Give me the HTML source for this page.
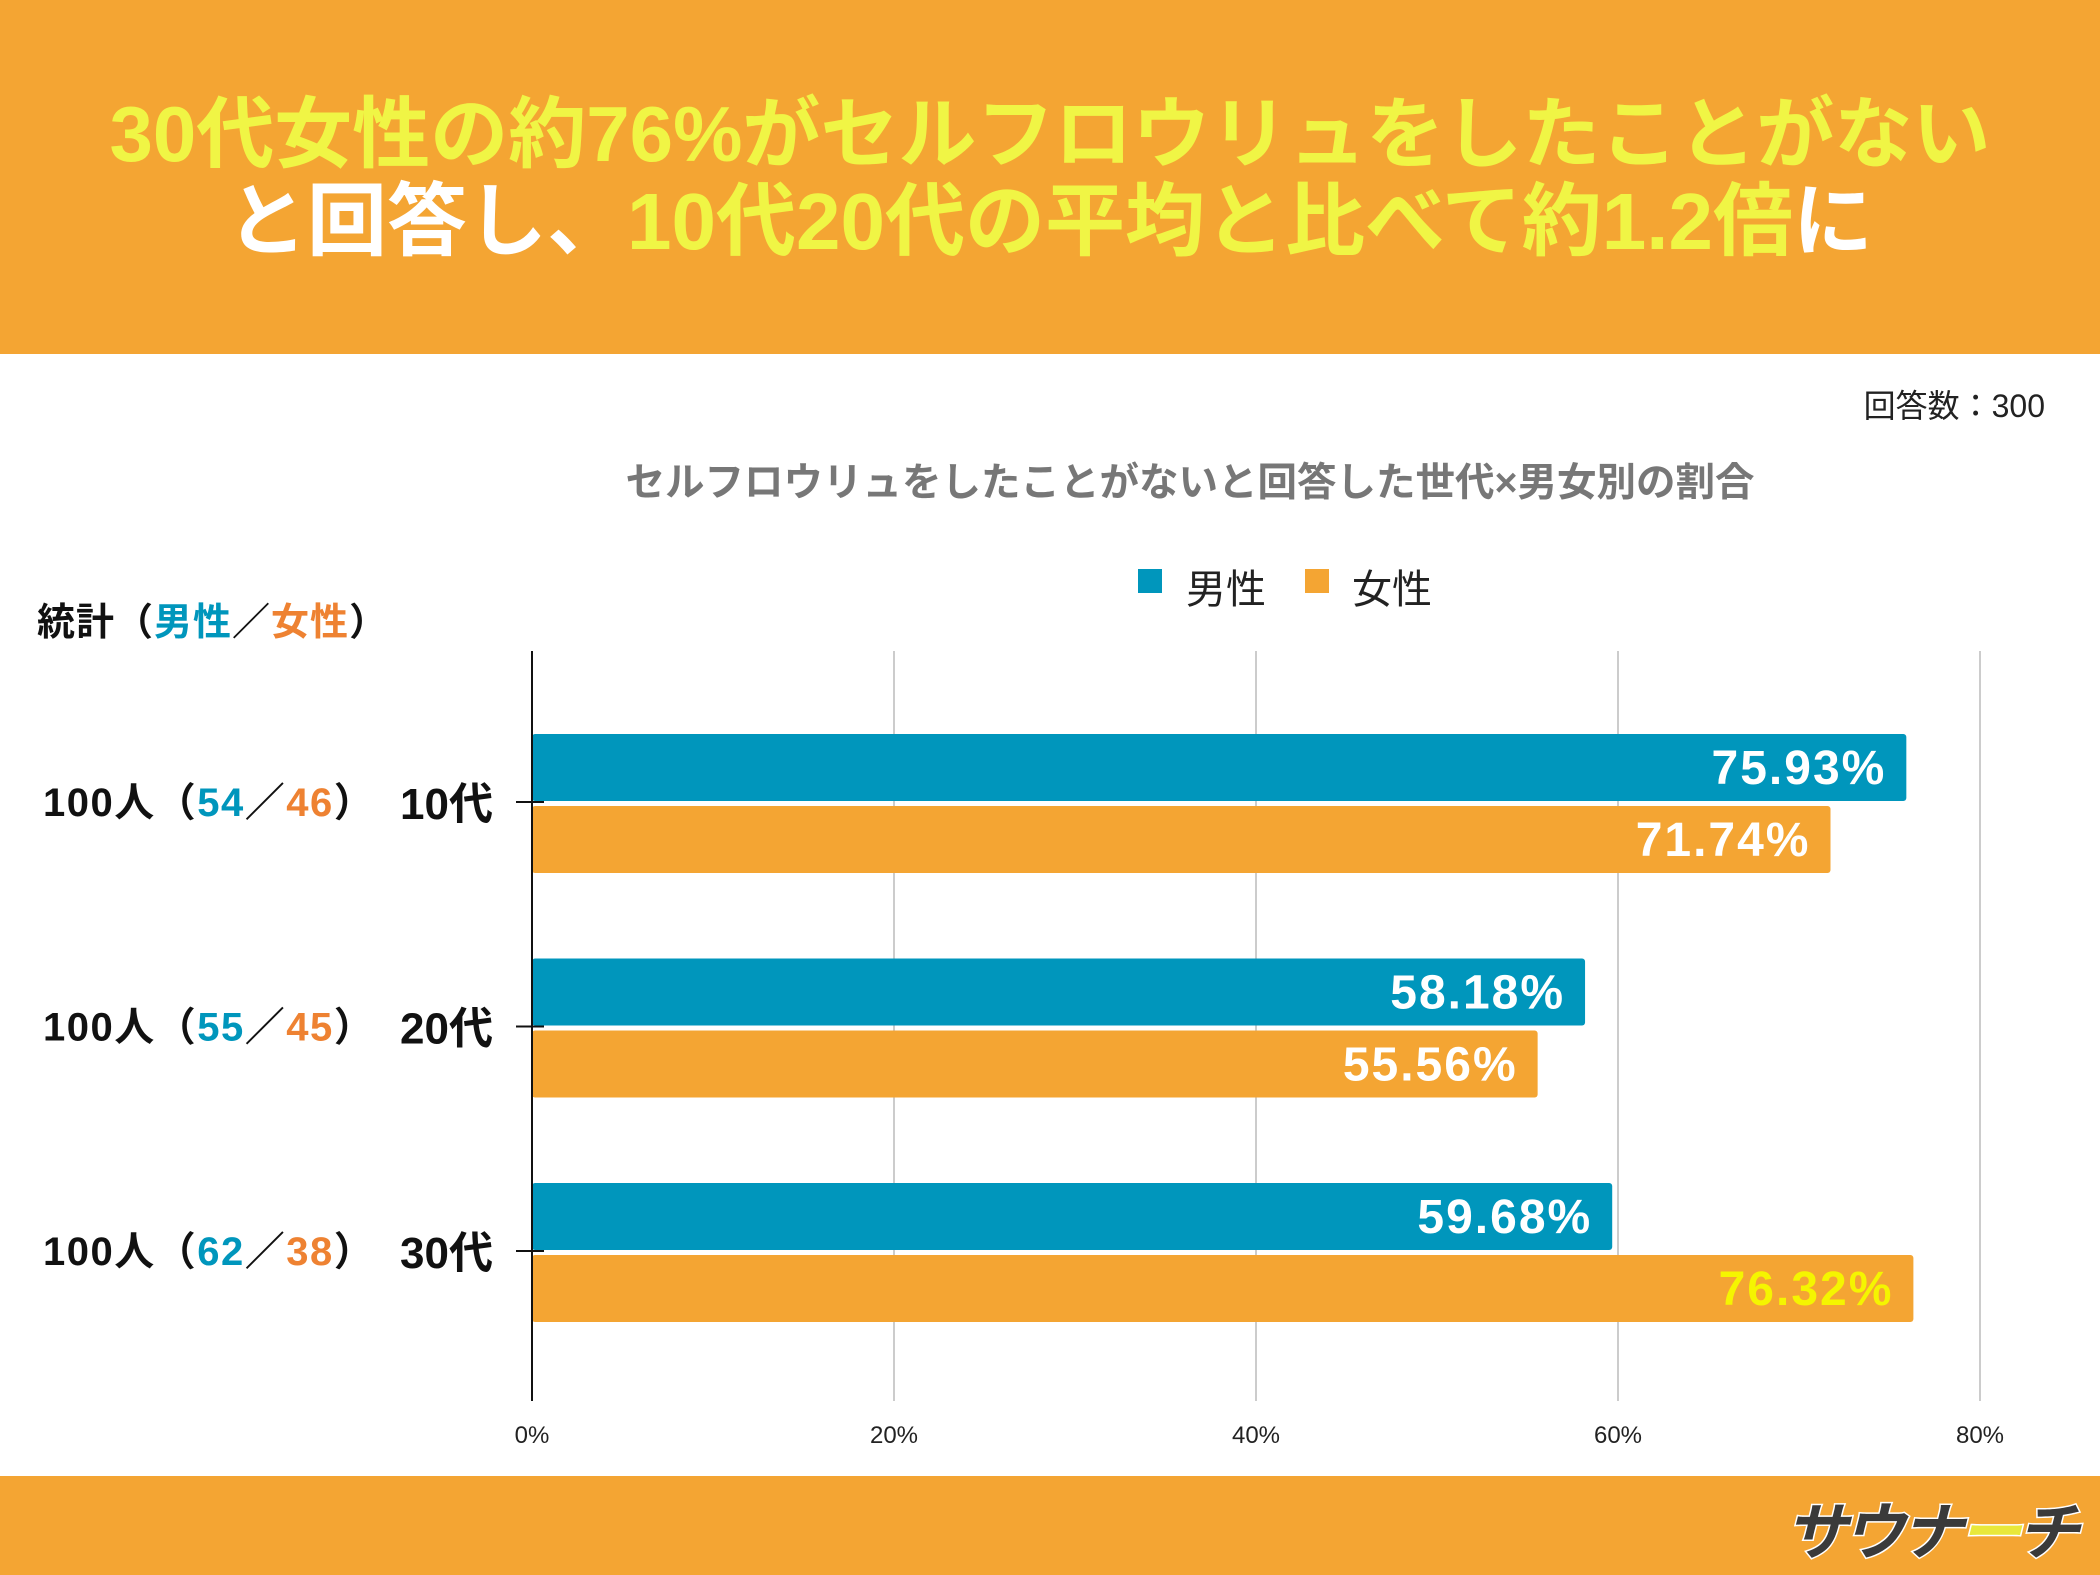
<!DOCTYPE html>
<html><head><meta charset="utf-8"><style>
html,body{margin:0;padding:0}
body{width:2100px;height:1575px;position:relative;background:#fff;overflow:hidden;font-family:"Liberation Sans","Noto Sans CJK JP",sans-serif}
.hdr{position:absolute;left:0;top:0;width:2100px;height:354px;background:#F4A533}
.t{position:absolute;left:0;width:2100px;text-align:center;font-weight:bold;font-size:78px;color:#F0F545;white-space:nowrap;line-height:1}
.w{color:#fff}
.ftr{position:absolute;left:0;top:1476px;width:2100px;height:99px;background:#F4A533}
.abs{position:absolute;white-space:nowrap}
</style></head><body>
<div class="hdr">
 <div class="t" style="top:95px">30代女性の約76%がセルフロウリュをしたことがない</div>
 <div class="t" style="top:182px;font-size:80px"><span class="w">と回答し、</span>10代20代の平均と比べて約1.2倍<span class="w">に</span></div>
</div>
<div class="abs" style="right:55px;top:381px;font-size:32px;color:#222">回答数：300</div>
<div class="abs" style="left:0;width:2380px;text-align:center;top:451px;font-size:39.5px;font-weight:bold;color:#777">セルフロウリュをしたことがないと回答した世代×男女別の割合</div>
<div class="abs" style="left:1138px;top:569px;width:24px;height:24px;background:#0096BC"></div>
<div class="abs" style="left:1186px;top:557px;font-size:40px;color:#222">男性</div>
<div class="abs" style="left:1305px;top:569px;width:24px;height:24px;background:#F4A533"></div>
<div class="abs" style="left:1352px;top:557px;font-size:40px;color:#222">女性</div>
<div class="abs" style="left:37px;top:591px;font-size:38px;font-weight:bold;color:#111;letter-spacing:1px">統計（<span style="color:#0096BC">男性</span>／<span style="color:#EE8232">女性</span>）</div>
<svg id="chart" class="abs" style="left:0;top:0" width="2100" height="1575"></svg>
<div class="ftr"></div>
<div class="abs" style="left:1785px;top:1482px;font-size:62px;font-weight:bold;color:#3a3a3a;-webkit-text-stroke:3px #fff;paint-order:stroke;letter-spacing:-4px;font-style:italic">サウナ<span style="color:#E8E83A">ー</span>チ</div>
<script>
const categories=["10代","20代","30代"];
const maleValues=[75.93,58.18,59.68];
const femaleValues=[71.74,55.56,76.32];
const maleCounts=[54,55,62];
const femaleCounts=[46,45,38];
const totals=[100,100,100];
const tickLabels=["0%","20%","40%","60%","80%"];
const tickValues=[0,20,40,60,80];
const femaleLabelColors=["#fff","#fff","#F5F500"];
const NS="http://www.w3.org/2000/svg";
const svg=document.getElementById("chart");
const x0=532,pxPer=(1980-532)/80;
const xs=v=>x0+v*pxPer;
const yTop=651,yBot=1401,band=224.5,firstCenter=802;
const yc=i=>firstCenter+band*i;
function mk(tag,attrs){const e=document.createElementNS(NS,tag);for(const k in attrs)e.setAttribute(k,attrs[k]);svg.appendChild(e);return e;}
tickValues.forEach((v,i)=>{
 if(v>0){const g=mk("line",{x1:xs(v),x2:xs(v),y1:yTop,y2:yBot,stroke:"#ccc","stroke-width":2});
 
 }
 const t=mk("text",{x:xs(v),y:1443,"text-anchor":"middle","font-size":24,fill:"#222","font-family":"Liberation Sans, sans-serif"});
 t.textContent=tickLabels[i];
 
 
});
categories.forEach((c,i)=>{
 const cy=yc(i);
 const bars=[[maleValues[i],cy-68,"#0096BC","#fff","male"],[femaleValues[i],cy+4,"#F4A533",femaleLabelColors[i],"female"]];
 bars.forEach(b=>{
  const r=mk("rect",{x:x0,y:b[1],width:xs(b[0])-x0,height:67,rx:3,fill:b[2]});
  
  
  const t=mk("text",{x:xs(b[0])-20,y:b[1]+50,"text-anchor":"end","font-size":48,"font-weight":"bold",fill:b[3],"letter-spacing":"2","font-family":"Liberation Sans, sans-serif"});
  t.textContent=b[0].toFixed(2)+"%";
  
  
 });
 const tk=mk("line",{x1:516,x2:544,y1:cy,y2:cy,stroke:"#111","stroke-width":2});
 
 
 const cl=mk("text",{x:493,y:cy+17,"text-anchor":"end","font-size":44,"font-weight":"bold",fill:"#111","font-family":"Liberation Sans, Noto Sans CJK JP, sans-serif"});
 cl.textContent=c;
 
 
 const st=mk("text",{x:43,y:cy+14,"font-size":40,"font-weight":"bold","letter-spacing":"1.5",fill:"#111","font-family":"Liberation Sans, Noto Sans CJK JP, sans-serif"});
 st.innerHTML=totals[i]+'人（<tspan fill="#0096BC">'+maleCounts[i]+'</tspan>／<tspan fill="#EE8232">'+femaleCounts[i]+'</tspan>）';
 
 
});
const ax=mk("line",{x1:x0,x2:x0,y1:yTop,y2:yBot,stroke:"#111","stroke-width":2});


</script>
</body></html>
